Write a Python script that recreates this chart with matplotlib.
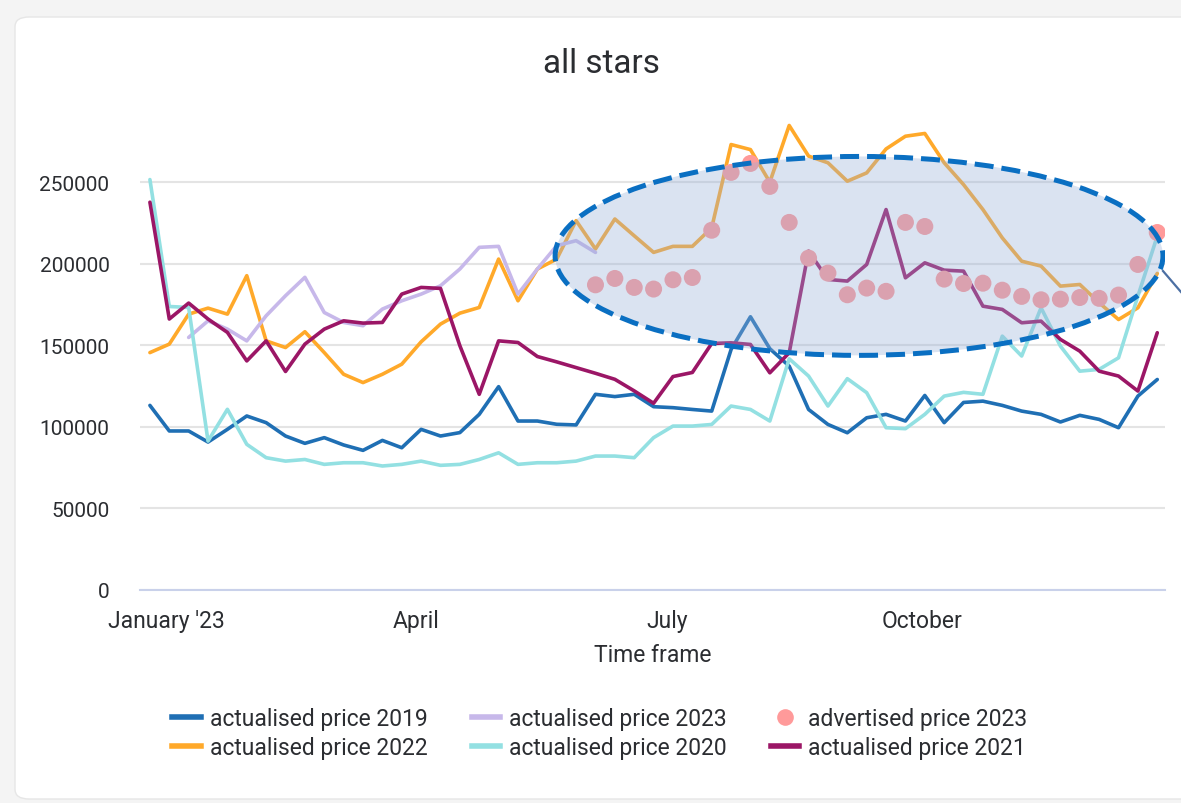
import matplotlib
matplotlib.use('Agg')
import matplotlib.pyplot as plt
from matplotlib.patches import Ellipse, FancyBboxPatch
from matplotlib.lines import Line2D
import pandas as pd

plt.rcParams['font.family'] = ['Roboto', 'DejaVu Sans']

# ---------------- data ----------------
weeks = pd.date_range('2022-12-26', periods=53, freq='7D')

price_2019 = [113000, 97300, 97300, 90500, 98300, 106500, 102400, 94200, 89700, 93200,
              88700, 85400, 91500, 87000, 98300, 94200, 96300, 107500, 124500, 103400,
              103400, 101400, 101000, 119800, 118400, 119800, 112200, 111600, 110500, 109500,
              147300, 167400, 147800, 137100, 110500, 101300, 96200, 105400, 107500, 103400,
              119100, 102400, 114800, 115600, 113000, 109500, 107500, 102800, 106900, 104400,
              99300, 118700, 128900]

price_2020 = [251600, 173700, 173100, 91100, 110600, 89100, 80900, 78800, 79800, 76800,
              77800, 77800, 75800, 76800, 78800, 76200, 76800, 79800, 83900, 76800,
              77800, 77800, 78800, 81900, 81900, 80900, 93200, 100300, 100300, 101300,
              112600, 110500, 103400, 141600, 131000, 112600, 129400, 120800, 99300, 98700,
              107500, 118700, 121000, 119800, 155500, 143300, 172900, 149400, 134000, 135100,
              142200, 180100, 216900]

price_2021 = [237700, 166000, 175800, 166000, 157800, 140300, 152600, 133800, 150600, 159800,
              164900, 163500, 163900, 181300, 185400, 184800, 149600, 119800, 152600, 151600,
              143000, 139700, 136200, 132700, 129000, 121900, 114300, 130700, 133200, 151000,
              151400, 150400, 133000, 145300, 207700, 190300, 189300, 199500, 233200, 191300,
              200500, 196000, 195400, 173900, 171900, 163700, 164700, 153500, 146300, 134000,
              131000, 121800, 157600]

price_2022 = [145400, 150600, 169000, 172700, 169000, 192600, 152600, 148500, 158200, 145400,
              132100, 127000, 132100, 138300, 152000, 162900, 169600, 173100, 202800, 177200,
              196700, 202800, 226400, 209000, 227400, 217100, 206900, 210600, 210600, 222000,
              273100, 270000, 250000, 284800, 266000, 261900, 250600, 255700, 270400, 278200,
              279900, 261900, 248500, 233200, 215800, 201500, 198500, 186200, 187200, 176000,
              165700, 172900, 194000]

# actualised 2023 covers weeks 3..24 of the year grid
price_2023_weeks = weeks[2:24]
price_2023 = [154700, 164900, 159800, 152600, 168000, 180300, 191600, 170000, 163900, 161900,
              172100, 177200, 181300, 186400, 196700, 210000, 210600, 181300, 196700, 211000,
              214100, 206900]

# advertised 2023 covers the last 30 weeks
advertised_weeks = weeks[23:]
advertised_2023 = [187000, 190900, 185400, 184400, 190100, 191500, 220500, 256000, 261500, 247400,
                   225300, 203400, 194200, 180900, 185000, 183000, 225300, 222800, 190500, 187800,
                   188000, 183700, 179900, 177800, 178200, 179200, 178700, 180700, 199500, 219100]

y_ticks = [0, 50000, 100000, 150000, 200000, 250000]
x_tick_dates = ['2023-01-01', '2023-04-01', '2023-07-01', '2023-10-01']
x_tick_labels = ["January '23", 'April', 'July', 'October']

# ---------------- styling ----------------
C2019 = '#1f6fb4'
C2020 = '#93e0e2'
C2021 = '#9b1666'
C2022 = '#ffa92a'
C2023 = '#c7b8ea'
CADV = '#ff9a9a'
TXT = '#2b2d31'

W, H = 1181, 804
fig = plt.figure(figsize=(W / 100, H / 100), dpi=100)
fig.patch.set_facecolor('#f4f4f4')

card = FancyBboxPatch((15 / W, 1 - 800 / H), 1.2, (800 - 18) / H,
                      boxstyle='round,pad=0,rounding_size=0.012',
                      transform=fig.transFigure, facecolor='white',
                      edgecolor='#e6e6e6', linewidth=1.0, zorder=-10)
fig.add_artist(card)

ax = fig.add_axes([140 / W, 1 - 590.5 / H, 1025 / W, 472.5 / H])
ax.set_facecolor('none')
ax.set_zorder(1)

lw = 2.6
kw = dict(lw=lw, solid_capstyle='round', solid_joinstyle='round', zorder=3)
ax.plot(weeks, price_2019, color=C2019, **kw)
ax.plot(weeks, price_2022, color=C2022, **kw)
ax.plot(price_2023_weeks, price_2023, color=C2023, **kw)
ax.plot(weeks, price_2020, color=C2020, **kw)
ax.plot(weeks, price_2021, color=C2021, **kw)
ax.scatter(advertised_weeks, advertised_2023, s=150, color=CADV, edgecolors='none', zorder=4)

ax.set_ylim(0, 290000)
ax.set_xlim(pd.Timestamp('2022-12-22 10:00'), pd.Timestamp('2023-12-27 19:00'))
ax.set_yticks(y_ticks)
ax.set_yticklabels([str(v) for v in y_ticks])
ax.set_xticks(pd.to_datetime(x_tick_dates))
ax.set_xticklabels(x_tick_labels)

for s in ['top', 'right', 'left']:
    ax.spines[s].set_visible(False)
ax.spines['bottom'].set_color('#c9d1ea')
ax.spines['bottom'].set_linewidth(1.5)
ax.grid(axis='y', color='#e4e4e4', lw=1.5, zorder=0)
ax.set_axisbelow(True)
ax.tick_params(axis='both', length=0, colors=TXT)
ax.tick_params(axis='y', pad=22, labelsize=15)
ax.tick_params(axis='x', pad=14, labelsize=16.5)

# highlight ellipse
ell = Ellipse((0.7015, 0.706), 0.593, 0.421, transform=ax.transAxes,
              facecolor=(150 / 255, 175 / 255, 215 / 255, 0.35),
              edgecolor='#0a6fc2', lw=3.6, linestyle=(0, (3.8, 1.6)), zorder=6)
ax.add_patch(ell)
fig.add_artist(Line2D([1163 / W, 1.0], [1 - 272 / H, 1 - 293 / H], transform=fig.transFigure,
                      color='#4c6fa3', lw=1.6, zorder=7))

fig.text(601 / W, 1 - 64 / H, 'all stars', ha='center', va='center', fontsize=24, color=TXT)
fig.text(653 / W, 1 - 655 / H, 'Time frame', ha='center', va='center', fontsize=16.5, color=TXT)

handles = [
    Line2D([], [], color=C2019, lw=4), Line2D([], [], color=C2022, lw=4),
    Line2D([], [], color=C2023, lw=4), Line2D([], [], color=C2020, lw=4),
    Line2D([], [], marker='o', ls='none', color=CADV, markersize=12, markeredgewidth=0),
    Line2D([], [], color=C2021, lw=4),
]
labels = ['actualised price 2019', 'actualised price 2022', 'actualised price 2023',
          'actualised price 2020', 'advertised price 2023', 'actualised price 2021']
leg = fig.legend(handles, labels, ncol=3, loc='center', bbox_to_anchor=(600 / W, 1 - 734 / H),
                 frameon=False, fontsize=16.5, handlelength=1.25, handletextpad=0.4,
                 columnspacing=1.9, labelspacing=0.3)
for t in leg.get_texts():
    t.set_color(TXT)

fig.savefig('out.png', dpi=100, facecolor=fig.get_facecolor())
